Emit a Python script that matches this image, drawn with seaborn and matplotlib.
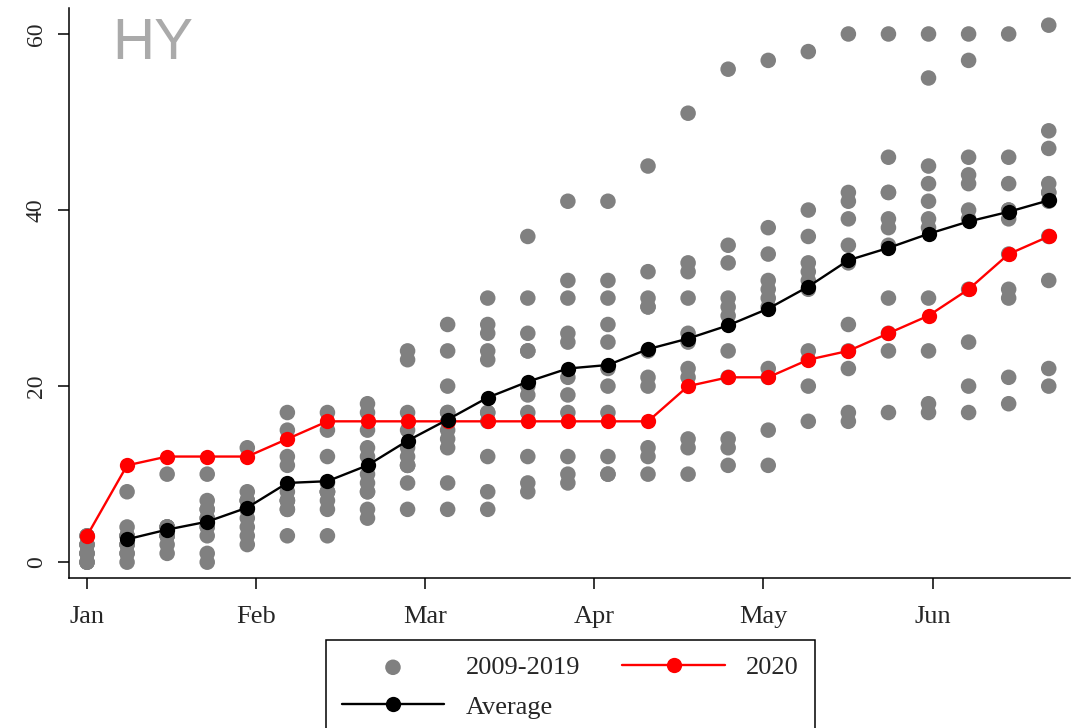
import numpy as np
import pandas as pd
import matplotlib
matplotlib.use('Agg')
import matplotlib.pyplot as plt
import seaborn as sns

# weekly cumulative counts, Jan 1 - late June
weeks = list(range(25))

# 2009-2019 values per week (11 years each)
past = [
    [0, 0, 0, 1, 1, 1, 2, 2, 2, 3, 3],
    [0, 1, 1, 2, 2, 2, 3, 3, 3, 4, 8],
    [1, 2, 3, 3, 3, 3, 4, 4, 4, 4, 10],
    [0, 1, 3, 4, 4, 5, 5, 6, 6, 7, 10],
    [2, 3, 4, 5, 6, 6, 7, 7, 7, 8, 13],
    [3, 6, 6, 7, 7, 7, 8, 11, 12, 15, 17],
    [3, 6, 7, 8, 8, 8, 8, 9, 12, 15, 17],
    [5, 6, 8, 8, 9, 10, 12, 13, 15, 17, 18],
    [6, 9, 11, 11, 11, 12, 13, 15, 17, 23, 24],
    [6, 9, 13, 14, 15, 16, 17, 17, 20, 24, 27],
    [6, 8, 12, 16, 17, 17, 23, 24, 26, 27, 30],
    [8, 9, 12, 17, 19, 20, 24, 24, 26, 30, 37],
    [9, 10, 12, 17, 19, 21, 25, 26, 30, 32, 41],
    [10, 10, 12, 17, 20, 22, 25, 27, 30, 32, 41],
    [10, 12, 13, 20, 21, 24, 29, 29, 30, 33, 45],
    [10, 13, 14, 21, 22, 25, 26, 30, 33, 34, 51],
    [11, 13, 14, 21, 24, 28, 29, 30, 34, 36, 56],
    [11, 15, 21, 22, 29, 30, 31, 32, 35, 38, 57],
    [16, 20, 23, 24, 31, 32, 33, 34, 37, 40, 58],
    [16, 17, 22, 24, 27, 34, 36, 39, 41, 42, 60],
    [17, 24, 26, 30, 36, 38, 39, 42, 42, 46, 60],
    [17, 18, 24, 30, 38, 39, 41, 43, 45, 55, 60],
    [17, 20, 25, 31, 39, 40, 43, 44, 46, 57, 60],
    [18, 21, 30, 31, 35, 39, 40, 40, 43, 46, 60],
    [20, 22, 32, 37, 41, 42, 42, 43, 47, 49, 61],
]

y2020 = [3, 11, 12, 12, 12, 14, 16, 16, 16, 16, 16, 16, 16, 16, 16,
         20, 21, 21, 23, 24, 26, 28, 31, 35, 37]

avg_weeks = weeks[1:]
avg = [2.6, 3.7, 4.6, 6.2, 9.0, 9.2, 11.0, 13.8, 16.2, 18.7, 20.5, 22.0,
       22.4, 24.2, 25.4, 26.9, 28.8, 31.3, 34.3, 35.7, 37.3, 38.7, 39.8, 41.1]

month_labels = ['Jan', 'Feb', 'Mar', 'Apr', 'May', 'Jun']
month_pos = np.arange(6) * 4.22

df_past = pd.DataFrame({
    'week': [w for w, vals in zip(weeks, past) for _ in vals],
    'value': [v for vals in past for v in vals],
})
df_2020 = pd.DataFrame({'week': weeks, 'value': y2020})
df_avg = pd.DataFrame({'week': avg_weeks, 'value': avg})

sns.set_style('ticks')
plt.rcParams['font.family'] = ['Liberation Serif', 'DejaVu Serif']

fig = plt.figure(figsize=(10.76, 7.28), dpi=100)
ax = fig.add_axes([0.0641, 0.206, 0.9303, 0.783])

sns.scatterplot(data=df_past, x='week', y='value', color='#808080', s=125,
                edgecolor='none', linewidth=0, ax=ax, label='2009-2019', zorder=2)
sns.lineplot(data=df_2020, x='week', y='value', color='red', marker='o',
             markersize=11, markeredgewidth=0, linewidth=1.7, estimator=None,
             ax=ax, label='2020', zorder=3)
sns.lineplot(data=df_avg, x='week', y='value', color='black', marker='o',
             markersize=11, markeredgewidth=0, linewidth=1.7, estimator=None,
             ax=ax, label='Average', zorder=4)

ax.set_xlim(-0.45, 24.53)
ax.set_ylim(-1.8, 62.95)
ax.set_xticks(month_pos)
ax.set_xticklabels(month_labels)
ax.set_yticks([0, 20, 40, 60])
ax.set_xlabel('')
ax.set_ylabel('')
for lab in ax.get_yticklabels():
    lab.set_rotation(90)
    lab.set_va('center')
ax.tick_params(axis='x', labelsize=19, length=8, width=1.1, pad=12, color='black')
ax.tick_params(axis='y', labelsize=17, length=8, width=1.1, pad=8, color='black')
sns.despine(ax=ax)
for side in ['left', 'bottom']:
    ax.spines[side].set_color('black')
    ax.spines[side].set_linewidth(1.1)

ax.text(0.043, 0.985, 'HY', transform=ax.transAxes, ha='left', va='top',
        fontsize=42, color='#aaaaaa', family=['Liberation Sans', 'DejaVu Sans'])

handles, labels = ax.get_legend_handles_labels()
order = [labels.index(n) for n in ['2009-2019', 'Average', '2020']]
ax.legend([handles[i] for i in order], [labels[i] for i in order],
          ncol=2, loc='upper center', bbox_to_anchor=(0.530, 0.121),
          bbox_transform=fig.transFigure, fontsize=19, frameon=True,
          fancybox=False, edgecolor='black', framealpha=1, handlelength=3.9,
          handletextpad=0.8, columnspacing=1.6, labelspacing=0.6,
          borderpad=0.6, borderaxespad=0, scatterpoints=1)
ax.get_legend().get_frame().set_linewidth(1.1)

fig.savefig('out.png', dpi=100)
